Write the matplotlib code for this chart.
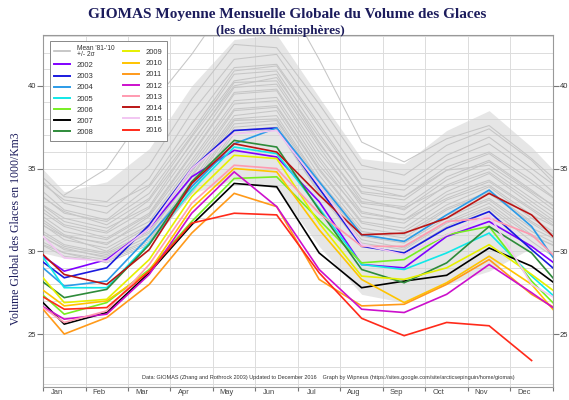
import matplotlib.pyplot as plt
from matplotlib.lines import Line2D
from matplotlib.ticker import MultipleLocator, FixedLocator

months = ['Jan', 'Feb', 'Mar', 'Apr', 'May', 'Jun',
          'Jul', 'Aug', 'Sep', 'Oct', 'Nov', 'Dec']

# mean '81-'10 +/- 2 sigma envelope
band_hi = [33.6, 34.2, 36.2, 40.0, 42.8, 43.1, 39.3, 35.6, 35.3, 37.3, 38.5, 36.3]
band_lo = [29.6, 29.4, 30.8, 33.5, 34.3, 33.8, 30.3, 27.4, 26.9, 28.0, 28.8, 30.2]

# monthly global ice volume (1000 km3), Jan..Dec
y1979 = [33.4, 35.0, 38.7, 41.9, 45.6, 46.2, 41.6, 36.6, 35.4, 36.8, 37.6, 35.6]
y1980 = [33.3, 33.0, 35.2, 39.2, 42.5, 42.3, 38.9, 35.2, 34.6, 36.4, 37.4, 35.5]
y1981 = [32.9, 32.3, 34.4, 38.4, 41.6, 41.9, 38.2, 34.4, 34.0, 35.8, 36.9, 35.0]
y1982 = [33.1, 32.7, 34.0, 37.7, 41.1, 41.3, 37.7, 34.0, 33.7, 35.5, 36.5, 34.7]
y1983 = [32.5, 31.9, 33.9, 37.2, 40.9, 41.2, 37.5, 33.9, 33.3, 35.1, 36.0, 34.3]
y1984 = [32.3, 31.8, 33.5, 37.0, 40.7, 40.9, 37.1, 33.5, 33.1, 34.9, 35.9, 34.1]
y1985 = [32.4, 31.6, 33.2, 36.9, 40.3, 40.7, 36.6, 33.0, 32.7, 34.5, 35.5, 33.7]
y1986 = [31.8, 31.2, 33.1, 36.5, 40.2, 40.3, 36.5, 33.2, 32.5, 34.3, 35.4, 33.6]
y1987 = [32.0, 31.4, 32.7, 36.6, 40.0, 40.5, 36.9, 33.6, 33.3, 34.9, 35.2, 33.5]
y1988 = [31.6, 31.1, 32.6, 36.2, 39.9, 40.1, 36.3, 32.7, 32.2, 34.0, 35.0, 33.2]
y1989 = [31.5, 30.8, 32.3, 35.9, 39.6, 39.8, 36.0, 32.9, 32.6, 33.9, 34.8, 33.0]
y1990 = [31.2, 30.7, 32.2, 35.8, 39.5, 39.7, 35.7, 32.4, 31.9, 33.6, 34.7, 32.8]
y1991 = [31.0, 30.4, 32.1, 35.5, 39.1, 39.3, 35.5, 32.1, 31.7, 33.4, 34.3, 32.6]
y1992 = [30.9, 30.5, 31.8, 35.3, 38.9, 39.1, 35.2, 32.3, 31.9, 33.2, 34.2, 32.5]
y1993 = [30.7, 30.2, 31.6, 35.1, 38.6, 38.8, 35.0, 31.8, 31.4, 33.1, 34.0, 32.2]
y1994 = [30.9, 30.0, 31.5, 34.8, 38.5, 38.7, 34.9, 31.7, 31.2, 32.8, 33.9, 32.0]
y1995 = [30.4, 29.9, 31.2, 34.6, 38.2, 38.5, 34.6, 31.4, 31.0, 32.6, 33.6, 31.8]
y1996 = [30.3, 29.8, 31.1, 34.5, 38.0, 38.2, 34.3, 31.2, 30.8, 32.5, 33.5, 31.7]
y1997 = [30.1, 29.7, 30.9, 34.2, 37.9, 38.0, 34.2, 31.0, 30.6, 32.2, 33.2, 31.4]
y1998 = [30.2, 29.6, 30.7, 34.0, 37.7, 37.9, 34.0, 30.9, 30.5, 32.0, 33.1, 31.2]
y1999 = [29.9, 29.5, 30.6, 33.9, 37.5, 37.7, 33.8, 30.7, 30.2, 31.8, 32.9, 31.0]
y2000 = [29.7, 29.4, 30.5, 33.6, 37.3, 37.5, 33.6, 30.5, 30.1, 31.7, 32.7, 30.9]
y2001 = [29.9, 29.3, 30.4, 33.5, 37.1, 37.4, 33.5, 30.3, 29.9, 31.5, 32.6, 30.6]
y2002 = [28.8, 29.5, 31.4, 34.5, 36.1, 35.7, 33.0, 29.2, 29.0, 30.9, 31.8, 30.3]
y2003 = [28.4, 29.0, 31.6, 35.0, 37.3, 37.45, 33.8, 30.3, 29.9, 31.4, 32.4, 30.1]
y2004 = [27.9, 28.2, 30.9, 33.9, 36.5, 37.45, 34.2, 31.0, 30.6, 32.2, 33.7, 31.5]
y2005 = [27.8, 27.8, 30.5, 33.7, 36.3, 35.9, 32.6, 29.2, 28.9, 29.9, 31.1, 28.5]
y2006 = [26.2, 26.9, 28.9, 31.8, 34.4, 34.5, 31.9, 29.3, 29.5, 31.0, 31.5, 28.2]
y2007 = [25.6, 26.3, 28.7, 31.6, 34.1, 33.9, 29.9, 27.8, 28.2, 28.55, 30.2, 29.1]
y2008 = [27.2, 27.7, 30.4, 34.2, 36.7, 36.3, 32.5, 28.9, 28.1, 29.3, 31.5, 29.9]
y2009 = [26.9, 27.1, 29.5, 33.3, 35.8, 35.6, 31.7, 28.5, 28.3, 29.0, 30.4, 28.6]
y2010 = [26.7, 27.0, 28.8, 32.6, 35.0, 34.8, 31.3, 28.3, 26.9, 28.1, 29.7, 28.0]
y2011 = [25.0, 26.0, 28.0, 31.1, 33.5, 32.7, 28.3, 26.7, 26.8, 28.0, 29.5, 27.4]
y2012 = [25.9, 26.2, 28.6, 32.3, 34.8, 32.7, 28.9, 26.5, 26.3, 27.4, 29.2, 27.5]
y2013 = [25.7, 26.4, 29.2, 32.9, 35.2, 35.0, 32.3, 30.3, 30.3, 31.8, 32.0, 31.0]
y2014 = [28.6, 28.0, 30.1, 34.1, 36.5, 36.0, 33.4, 31.0, 31.1, 32.0, 33.5, 32.2]
y2015 = [29.6, 29.4, 31.4, 35.0, 37.1, 37.3, 34.0, 30.4, 29.8, 31.0, 32.2, 28.0]
y2016 = [26.5, 26.6, 28.8, 31.7, 32.3, 32.2, 28.7, 25.95, 24.9, 25.7, 25.5, 23.4]

volume = {
    1979: y1979, 1980: y1980, 1981: y1981, 1982: y1982, 1983: y1983,
    1984: y1984, 1985: y1985, 1986: y1986, 1987: y1987, 1988: y1988,
    1989: y1989, 1990: y1990, 1991: y1991, 1992: y1992, 1993: y1993,
    1994: y1994, 1995: y1995, 1996: y1996, 1997: y1997, 1998: y1998,
    1999: y1999, 2000: y2000, 2001: y2001, 2002: y2002, 2003: y2003,
    2004: y2004, 2005: y2005, 2006: y2006, 2007: y2007, 2008: y2008,
    2009: y2009, 2010: y2010, 2011: y2011, 2012: y2012, 2013: y2013,
    2014: y2014, 2015: y2015, 2016: y2016,
}

year_colors = {
    2002: '#8000ff', 2003: '#1a1adf', 2004: '#2b9be8', 2005: '#10e8e8',
    2006: '#77ee22', 2007: '#000000', 2008: '#2e8b3a', 2009: '#e6f000',
    2010: '#ffc400', 2011: '#ff9a1a', 2012: '#cc10cc', 2013: '#ff9ab0',
    2014: '#bb1515', 2015: '#f2c6f2', 2016: '#ff2a1a',
}

navy = '#1c1c5c'
plt.rcParams['font.family'] = ['Liberation Sans', 'DejaVu Sans']

fig = plt.figure(figsize=(5.69, 4.0), dpi=100)
ax = fig.add_axes([0.0756, 0.0325, 0.896, 0.8800])


def with_edges(yr):
    # neighbouring Dec / Jan so the line runs to the frame on both sides
    xs = list(range(1, 13))
    vs = list(volume[yr])
    if yr - 1 in volume:
        xs = [0] + xs
        vs = [volume[yr - 1][11]] + vs
    if yr + 1 in volume:
        xs = xs + [13]
        vs = vs + [volume[yr + 1][0]]
    return xs, vs


bx = list(range(0, 14))
ax.fill_between(bx, [band_hi[11]] + band_hi + [band_hi[0]],
                [band_lo[11]] + band_lo + [band_lo[0]],
                color='#d2d2d2', alpha=0.55, lw=0, zorder=1)

for yr in sorted(volume):
    xs, vs = with_edges(yr)
    if yr in year_colors:
        ax.plot(xs, vs, color=year_colors[yr], lw=1.2, zorder=3,
                solid_joinstyle='miter')
    else:
        ax.plot(xs, vs, color='#c6c6c6', lw=0.75, zorder=2)

ax.set_xlim(0.5, 12.5)
ax.set_ylim(21.8, 43.07)

# month names sit a little left of the month centres, as in the original
ax.xaxis.set_major_locator(FixedLocator([i + 0.5 for i in range(13)]))
ax.xaxis.set_minor_locator(FixedLocator([m - 0.18 for m in range(1, 13)]))
ax.set_xticklabels([], minor=False)
ax.set_xticklabels(months, minor=True)
ax.tick_params(axis='x', which='major', length=3, color='#777777', direction='out')
ax.tick_params(axis='x', which='minor', length=0, pad=1.5, labelsize=5.4,
               labelcolor='#444444')

ax.yaxis.set_major_locator(MultipleLocator(5))
ax.yaxis.set_minor_locator(MultipleLocator(1))
ax.tick_params(axis='y', which='major', length=4, color='#777777', pad=1,
               labelsize=5.5, labelcolor='#333333', right=True, labelright=True)
ax.tick_params(axis='y', which='minor', length=0, right=True)

ax.grid(axis='x', which='major', color='#dcdcdc', lw=0.7, zorder=0)
ax.grid(axis='y', which='both', color='#dcdcdc', lw=0.7, zorder=0)
ax.set_axisbelow(True)
for sp in ax.spines.values():
    sp.set_color('#999999')
    sp.set_linewidth(0.8)

ax.set_ylabel('Volume Global des Glaces en 1000/Km3', family='Liberation Serif',
              fontsize=8.5, color=navy, labelpad=3)
ax.yaxis.set_label_coords(-0.042, 0.45)

fig.text(0.505, 0.963, 'GIOMAS Moyenne Mensuelle Globale du Volume des Glaces',
         ha='center', va='center', family='Liberation Serif', weight='bold',
         fontsize=11, color=navy)
fig.text(0.493, 0.923, '(les deux hémisphères)', ha='center', va='center',
         family='Liberation Serif', weight='bold', fontsize=9.5, color=navy)

fig.text(0.5775, 0.0575,
         'Data: GIOMAS (Zhang and Rothrock 2003) Updated to December 2016'
         '    Graph by Wipneus (https://sites.google.com/site/arcticsepinguin/home/giomas)',
         ha='center', va='center', fontsize=4, color='#333333')

handles = [Line2D([], [], color='#bdbdbd', lw=1.2)]
labels = ["Mean '81-'10\n+/- 2\u03c3"]
for yr in sorted(year_colors):
    handles.append(Line2D([], [], color=year_colors[yr], lw=1.4))
    labels.append(str(yr))

leg = ax.legend(handles, labels, ncol=2, loc='upper left',
                bbox_to_anchor=(0.006, 0.995), fontsize=5.5, frameon=True,
                fancybox=False, edgecolor='#888888', framealpha=1,
                handlelength=2.0, handletextpad=0.9, labelspacing=0.5,
                columnspacing=1.2, borderpad=0.6)
leg.get_frame().set_linewidth(0.7)
leg.set_zorder(5)
for t in leg.get_texts():
    t.set_color('#333333')
leg.get_texts()[0].set_fontsize(4.8)
leg.get_texts()[0].set_linespacing(0.75)

fig.savefig('out.png', dpi=100)
